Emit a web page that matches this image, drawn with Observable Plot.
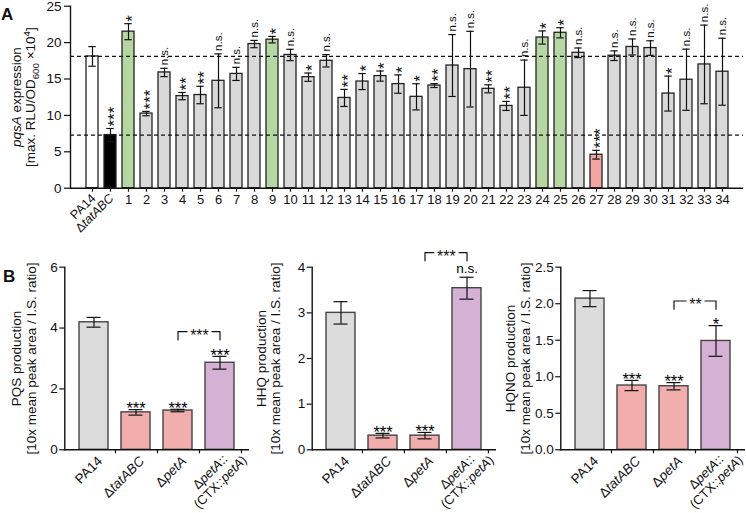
<!DOCTYPE html>
<html><head><meta charset="utf-8">
<script src="https://cdn.jsdelivr.net/npm/d3@7"></script>
<script src="https://cdn.jsdelivr.net/npm/@observablehq/plot@0.6"></script>
<style>
body{margin:0;background:#fff;}
#root{position:relative;width:746px;height:513px;font-family:"Liberation Sans",Arial,sans-serif;color:#111;}
#root svg{position:absolute;overflow:visible;}
.plab{position:absolute;font-weight:bold;font-size:17px;line-height:1;}
</style></head><body><div id="root"></div>
<script>
// ---------- Panel A data ----------
const strainsA = ["PA14","ΔtatABC","1","2","3","4","5","6","7","8","9","10","11","12","13","14","15","16","17","18","19","20","21","22","23","24","25","26","27","28","29","30","31","32","33","34"];
const meansA = [18.1,7.3,21.5,10.25,15.9,12.65,12.8,14.75,15.7,19.8,20.4,18.3,15.25,17.5,12.4,14.65,15.4,14.3,12.55,14.1,16.85,16.35,13.65,11.3,13.8,20.7,21.35,18.6,4.6,18.2,19.4,19.25,13.0,14.9,17.0,16.0];
const errorsA = [1.35,0.9,1.1,0.3,0.57,0.5,1.2,3.7,0.9,0.5,0.45,0.78,0.57,0.85,1.17,1.1,0.7,1.26,1.8,0.27,4.25,5.2,0.55,0.62,3.8,0.9,0.7,0.66,0.6,0.66,1.1,1.0,2.4,4.2,5.4,4.6];
const sigA = ["","***","*","***","n.s.","**","**","n.s.","n.s.","n.s.","*","n.s.","*","n.s.","**","*","*","*","*","**","n.s.","n.s.","**","**","n.s.","*","*","n.s.","***","n.s.","n.s.","n.s.","*","n.s.","n.s.","n.s."];
const groupA = ["wt","tat","up","mid","mid","mid","mid","mid","mid","mid","up","mid","mid","mid","mid","mid","mid","mid","mid","mid","mid","mid","mid","mid","mid","up","up","mid","down","mid","mid","mid","mid","mid","mid","mid"];
const yTicksA = [0,5,10,15,20,25];
const titleA = "pqsA expression\n[max. RLU/OD600 ×104]";

// ---------- Panel B data ----------
const strainsB = ["PA14","ΔtatABC","ΔpetA","ΔpetA::\n(CTX::petA)"];
const groupB = ["wt","mut","mut","comp"];
const pqsMean = [4.19,1.23,1.29,2.86];
const pqsErr = [0.16,0.09,0.04,0.21];
const pqsSig = ["","***","***","***"];
const hhqMean = [3.0,0.31,0.31,3.54];
const hhqErr = [0.245,0.05,0.07,0.24];
const hhqSig = ["","***","***","n.s."];
const hqnoMean = [2.07,0.88,0.87,1.49];
const hqnoErr = [0.11,0.07,0.05,0.21];
const hqnoSig = ["","***","***","*"];
const bracketSig = ["***","***","**"];
const titlesB = ["PQS production\n[10x mean peak area / I.S. ratio]","HHQ production\n[10x mean peak area / I.S. ratio]","HQNO production\n[10x mean peak area / I.S. ratio]"];

const FONT = "Liberation Sans, Arial, sans-serif";
const INK = "#111";

const RICH = {
  "ΔtatABC": [["Δ"],["tatABC","i"]],
  "ΔpetA": [["Δ"],["petA","i"]],
  "ΔpetA::": [["Δ"],["petA","i"],["::"]],
  "(CTX::petA)": [["(CTX::"],["petA","i"],[")"]],
  "pqsA expression": [["pqsA","i"],[" expression"]],
  "[max. RLU/OD600 ×104]": [["[max. RLU/OD"],["600","sub"],[" ×10"],["4","sup"],["]"]]
};
function enrich(svg) {
  svg.querySelectorAll("text, tspan").forEach(el => {
    if (el.childNodes.length !== 1 || el.firstChild.nodeType !== 3) return;
    const parts = RICH[el.textContent];
    if (!parts) return;
    el.textContent = "";
    let shift = 0;
    for (const [s, kind] of parts) {
      const t = document.createElementNS("http://www.w3.org/2000/svg", "tspan");
      t.textContent = s;
      let target = 0;
      if (kind === "i") t.setAttribute("font-style", "italic");
      if (kind === "sub") { t.setAttribute("font-size", "72%"); target = 3.5; }
      if (kind === "sup") { t.setAttribute("font-size", "72%"); target = -5; }
      if (target !== shift) { t.setAttribute("dy", target - shift); shift = target; }
      el.appendChild(t);
    }
  });
}

const root = document.getElementById("root");
function place(svg, left, top) {
  svg.style.left = left + "px";
  svg.style.top = top + "px";
  enrich(svg);
  root.appendChild(svg);
}

// ---------- Panel A ----------
const dataA = strainsA.map((s, i) => ({strain: s, mean: meansA[i], err: errorsA[i], sig: sigA[i], group: groupA[i]}));
const starsA = dataA.filter(d => d.sig.startsWith("*"));
const nsA = dataA.filter(d => d.sig === "n.s.");

const plotA = Plot.plot({
  width: 746, height: 250,
  marginLeft: 70, marginRight: 3, marginTop: 5.7, marginBottom: 62.3,
  style: {background: "transparent", overflow: "visible", fontFamily: FONT, fontSize: "13px", color: INK},
  x: {domain: strainsA, paddingInner: 0.36, paddingOuter: 0.15, axis: null},
  y: {domain: [0, 25], axis: null},
  color: {domain: ["wt","tat","up","mid","down"], range: ["#ffffff","#000000","#b7d7a2","#d9d9d9","#f3a5a3"]},
  marks: [
    Plot.barY(dataA, {x: "strain", y: "mean", fill: "group", stroke: "#222", strokeWidth: 1.3}),
    Plot.ruleX(dataA, {x: "strain", y1: d => d.mean - d.err, y2: d => d.mean + d.err, stroke: INK, strokeWidth: 1.2}),
    Plot.tickY(dataA, {x: "strain", y: d => d.mean + d.err, inset: 2.3, stroke: INK, strokeWidth: 1.2}),
    Plot.tickY(dataA, {x: "strain", y: d => d.mean - d.err, inset: 2.3, stroke: INK, strokeWidth: 1.2}),
    Plot.ruleY([meansA[0], meansA[1]], {stroke: INK, strokeWidth: 1.2, strokeDasharray: "4,3"}),
    Plot.ruleY([0], {stroke: INK, strokeWidth: 1.4}),
    Plot.frame({anchor: "left", stroke: INK, strokeWidth: 1.4}),
    Plot.axisY({ticks: yTicksA, label: null, tickSize: 6, tickPadding: 3, fontSize: 13.5, stroke: INK, strokeWidth: 1.2}),
    Plot.axisX({label: null, tickSize: 4, tickPadding: 3, fontSize: 13, stroke: INK, strokeWidth: 1.2, tickFormat: d => /^\d+$/.test(d) ? d : ""}),
    Plot.text(strainsA.filter(d => !/^\d+$/.test(d)), {x: d => d, frameAnchor: "bottom", rotate: -45, textAnchor: "end", lineAnchor: "middle", dx: 1, dy: 8, fontSize: 12.5, fill: INK}),
    Plot.text([titleA], {frameAnchor: "left", rotate: -90, textAnchor: "middle", lineAnchor: "middle", lineHeight: 1.05, dx: -47, fontSize: 13.5, fill: INK}),
    Plot.text(nsA, {x: "strain", y: d => d.mean + d.err, text: "sig", rotate: -90, textAnchor: "start", lineAnchor: "middle", dy: -3, fontSize: 11.5, fill: INK}),
    Plot.text(starsA, {x: "strain", y: d => d.mean + d.err, text: "sig", rotate: -90, textAnchor: "start", lineAnchor: "middle", dy: -2, dx: 4.5, fontSize: 17, fill: INK})
  ]
});
place(plotA, 0, 0);

// ---------- Panel B ----------
function panelB({means, errs, sigs, ymax, ticks, fmt, title, bsig, left, width, marginLeft, titleDx}) {
  const data = strainsB.map((s, i) => ({strain: s, mean: means[i], err: errs[i], sig: sigs[i], group: groupB[i]}));
  const inner = width - marginLeft - 1;
  const step = inner / (strainsB.length - 0.3 + 0.6);
  const legY = Math.max(means[2] + errs[2], means[3] + errs[3]) + 0.09 * ymax;
  const topY = legY + 0.045 * ymax;
  const bracket = [
    {x: strainsB[2], y: legY}, {x: strainsB[2], y: topY},
    {x: strainsB[3], y: topY}, {x: strainsB[3], y: legY}
  ];
  const stars = data.filter(d => d.sig.startsWith("*"));
  const ns = data.filter(d => d.sig === "n.s.");
  const multi = strainsB.filter(s => s.includes("\n"));
  const svg = Plot.plot({
    width, height: 263,
    marginLeft, marginRight: 1, marginTop: 16.7, marginBottom: 63.7,
    style: {background: "transparent", overflow: "visible", fontFamily: FONT, fontSize: "13px", color: INK},
    x: {domain: strainsB, padding: 0.3, axis: null},
    y: {domain: [0, ymax], axis: null},
    color: {domain: ["wt","mut","comp"], range: ["#dcdcdc","#f2aeac","#d6b1d6"]},
    marks: [
      Plot.barY(data, {x: "strain", y: "mean", fill: "group", stroke: "#444", strokeWidth: 1.4}),
      Plot.ruleX(data, {x: "strain", y1: d => d.mean - d.err, y2: d => d.mean + d.err, stroke: INK, strokeWidth: 1.2}),
      Plot.tickY(data, {x: "strain", y: d => d.mean + d.err, inset: 7.5, stroke: INK, strokeWidth: 1.2}),
      Plot.tickY(data, {x: "strain", y: d => d.mean - d.err, inset: 7.5, stroke: INK, strokeWidth: 1.2}),
      Plot.ruleY([0], {stroke: INK, strokeWidth: 1.4}),
      Plot.frame({anchor: "left", stroke: INK, strokeWidth: 1.4}),
      Plot.axisY({ticks, label: null, tickFormat: fmt, tickSize: 5, tickPadding: 2, fontSize: 13.5, stroke: INK, strokeWidth: 1.2}),
      Plot.axisX({label: null, tickSize: 4, tickFormat: () => "", dx: step / 2, stroke: INK, strokeWidth: 1.2}),
      Plot.axisX({label: null, tickSize: 0, tickRotate: -45, tickPadding: 6, dx: 6, dy: 3, fontSize: 13.5, fill: INK, tickFormat: d => d.includes("\n") ? "" : d}),
      Plot.text(multi, {x: d => d, frameAnchor: "bottom", rotate: -45, textAnchor: "middle", lineAnchor: "middle", lineHeight: 1.1, dx: -5, dy: 27, fontSize: 13, fill: INK}),
      Plot.text([title], {frameAnchor: "left", rotate: -90, textAnchor: "middle", lineAnchor: "middle", lineHeight: 1.1, dx: titleDx, fontSize: 13.5, fill: INK}),
      Plot.line(bracket, {x: "x", y: "y", stroke: INK, strokeWidth: 1.2}),
      Plot.text([{x: strainsB[2], y: topY, s: bsig}], {x: "x", y: "y", text: "s", dx: step / 2, dy: 4, fontSize: 16, fill: INK, stroke: "white", strokeWidth: 6, paintOrder: "stroke"}),
      Plot.text(stars, {x: "strain", y: d => d.mean + d.err, text: "sig", lineAnchor: "middle", dy: -1, fontSize: 16.5, fill: "black"}),
      Plot.text(ns, {x: "strain", y: d => d.mean + d.err, text: "sig", lineAnchor: "middle", dy: -9, fontSize: 13.5, fill: "black"})
    ]
  });
  place(svg, left, 250);
}

panelB({means: pqsMean, errs: pqsErr, sigs: pqsSig, ymax: 6, ticks: [0,2,4,6], fmt: d3.format("d"), title: titlesB[0], bsig: bracketSig[0], left: 0, width: 250, marginLeft: 64.3, titleDx: -41});
panelB({means: hhqMean, errs: hhqErr, sigs: hhqSig, ymax: 4, ticks: [0,1,2,3,4], fmt: d3.format("d"), title: titlesB[1], bsig: bracketSig[1], left: 250, width: 247, marginLeft: 61.7, titleDx: -44});
panelB({means: hqnoMean, errs: hqnoErr, sigs: hqnoSig, ymax: 2.5, ticks: [0,0.5,1,1.5,2,2.5], fmt: d3.format(".1f"), title: titlesB[2], bsig: bracketSig[2], left: 497, width: 249, marginLeft: 63.3, titleDx: -43});

// panel letters
for (const [t, x, y] of [["A", 1, 6], ["B", 3, 268]]) {
  const d = document.createElement("div");
  d.className = "plab"; d.textContent = t;
  d.style.left = x + "px"; d.style.top = y + "px";
  root.appendChild(d);
}
</script>
</body></html>
